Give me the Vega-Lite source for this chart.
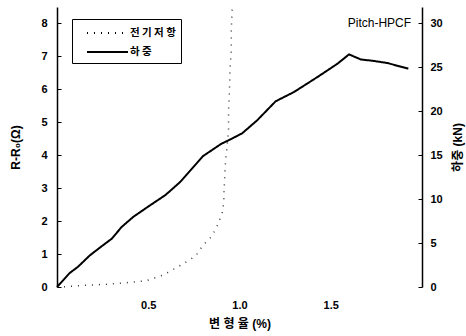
{
  "$schema": "https://vega.github.io/schema/vega-lite/v6.json",
  "width": 365,
  "height": 280,
  "autosize": {"type": "none"},
  "padding": {"left": 57, "top": 7, "right": 44, "bottom": 49},
  "background": "white",
  "config": {
    "view": {"stroke": null},
    "font": "Liberation Sans, Noto Sans CJK KR",
    "axis": {"grid": false, "labelFont": "Liberation Sans, Noto Sans CJK KR", "titleFont": "Liberation Sans, Noto Sans CJK KR", "labelFontWeight": "bold", "titleFontWeight": "bold", "labelFontSize": 11, "titleFontSize": 12, "labelColor": "#000", "titleColor": "#000", "domainColor": "#000", "tickColor": "#000", "labelOverlap": false}
  },
  "datasets": {
    "res": [
      {"strain": 0.0, "value": 0.0, "series": "전기저항"},
      {"strain": 0.05, "value": 0.01, "series": "전기저항"},
      {"strain": 0.18, "value": 0.06, "series": "전기저항"},
      {"strain": 0.27, "value": 0.08, "series": "전기저항"},
      {"strain": 0.38, "value": 0.13, "series": "전기저항"},
      {"strain": 0.49, "value": 0.19, "series": "전기저항"},
      {"strain": 0.58, "value": 0.36, "series": "전기저항"},
      {"strain": 0.66, "value": 0.6, "series": "전기저항"},
      {"strain": 0.76, "value": 0.94, "series": "전기저항"},
      {"strain": 0.8, "value": 1.27, "series": "전기저항"},
      {"strain": 0.85, "value": 1.55, "series": "전기저항"},
      {"strain": 0.877, "value": 1.85, "series": "전기저항"},
      {"strain": 0.905, "value": 2.23, "series": "전기저항"},
      {"strain": 0.914, "value": 2.58, "series": "전기저항"},
      {"strain": 0.915, "value": 2.89, "series": "전기저항"},
      {"strain": 0.918, "value": 3.19, "series": "전기저항"},
      {"strain": 0.92, "value": 3.49, "series": "전기저항"},
      {"strain": 0.924, "value": 3.85, "series": "전기저항"},
      {"strain": 0.93, "value": 4.15, "series": "전기저항"},
      {"strain": 0.94, "value": 4.76, "series": "전기저항"},
      {"strain": 0.94, "value": 5.36, "series": "전기저항"},
      {"strain": 0.945, "value": 5.97, "series": "전기저항"},
      {"strain": 0.948, "value": 6.6, "series": "전기저항"},
      {"strain": 0.955, "value": 7.2, "series": "전기저항"},
      {"strain": 0.955, "value": 7.8, "series": "전기저항"},
      {"strain": 0.96, "value": 8.45, "series": "전기저항"}
    ],
    "load": [
      {"strain": 0.0, "value": 0.0, "series": "하중"},
      {"strain": 0.07, "value": 1.6, "series": "하중"},
      {"strain": 0.115, "value": 2.3, "series": "하중"},
      {"strain": 0.18, "value": 3.6, "series": "하중"},
      {"strain": 0.236, "value": 4.5, "series": "하중"},
      {"strain": 0.3, "value": 5.5, "series": "하중"},
      {"strain": 0.355, "value": 6.85, "series": "하중"},
      {"strain": 0.419, "value": 8.0, "series": "하중"},
      {"strain": 0.51, "value": 9.3, "series": "하중"},
      {"strain": 0.593, "value": 10.45, "series": "하중"},
      {"strain": 0.676, "value": 11.97, "series": "하중"},
      {"strain": 0.758, "value": 13.9, "series": "하중"},
      {"strain": 0.8, "value": 14.9, "series": "하중"},
      {"strain": 0.85, "value": 15.6, "series": "하중"},
      {"strain": 0.9, "value": 16.3, "series": "하중"},
      {"strain": 0.95, "value": 16.8, "series": "하중"},
      {"strain": 1.015, "value": 17.5, "series": "하중"},
      {"strain": 1.097, "value": 18.98, "series": "하중"},
      {"strain": 1.198, "value": 21.14, "series": "하중"},
      {"strain": 1.298, "value": 22.19, "series": "하중"},
      {"strain": 1.427, "value": 23.9, "series": "하중"},
      {"strain": 1.537, "value": 25.42, "series": "하중"},
      {"strain": 1.6, "value": 26.48, "series": "하중"},
      {"strain": 1.665, "value": 25.9, "series": "하중"},
      {"strain": 1.73, "value": 25.75, "series": "하중"},
      {"strain": 1.81, "value": 25.5, "series": "하중"},
      {"strain": 1.925, "value": 24.85, "series": "하중"}
    ],
    "label": [
      {"strain": 1.94, "value": 8.0, "text": "Pitch-HPCF"}
    ]
  },
  "layer": [
    {
      "layer": [
        {
          "data": {"name": "res"},
          "mark": {"type": "line", "strokeWidth": 1.5, "color": "#333"},
          "encoding": {
            "x": {"field": "strain", "type": "quantitative", "scale": {"domain": [0, 2], "nice": false},
                  "axis": {"title": "변 형 율 (%)", "values": [0.5, 1, 1.5], "domain": false, "ticks": false, "labelPadding": 12, "titlePadding": 8, "labelFontSize": 11}},
            "y": {"field": "value", "type": "quantitative", "scale": {"domain": [0, 8.5], "nice": false},
                  "axis": {"title": "R-R₀(Ω)", "values": [0, 1, 2, 3, 4, 5, 6, 7, 8], "tickSize": -4, "labelPadding": 14, "titlePadding": 18, "domainWidth": 1.5}},
            "strokeDash": {"field": "series", "type": "nominal",
                  "scale": {"domain": ["전기저항", "하중"], "range": [[1, 6], [1, 0]]},
                  "legend": {"title": null, "orient": "none", "legendX": 15, "legendY": 12, "symbolType": "M0.125,0H5.25", "symbolSize": 256, "symbolStrokeWidth": 2, "symbolStrokeColor": "#000", "symbolFillColor": "transparent", "labelOffset": 35, "strokeColor": "#000", "padding": 5, "rowPadding": 4, "labelFontSize": 10.5, "labelFontWeight": "bold", "labelFont": "Noto Sans CJK KR", "labelColor": "#000", "fillColor": "white", "labelExpr": "datum.label == '전기저항' ? '전 기 저 항' : '하 중'"}}
          }
        },
        {
          "data": {"name": "label"},
          "mark": {"type": "text", "align": "right", "baseline": "middle", "fontSize": 12, "font": "Liberation Sans", "color": "#000"},
          "encoding": {
            "x": {"field": "strain", "type": "quantitative", "axis": {"title": "변 형 율 (%)", "values": [0.5, 1, 1.5], "domain": false, "ticks": false, "labelPadding": 12, "titlePadding": 8, "labelFontSize": 11}},
            "y": {"field": "value", "type": "quantitative", "axis": {"title": "R-R₀(Ω)", "values": [0, 1, 2, 3, 4, 5, 6, 7, 8], "tickSize": -4, "labelPadding": 14, "titlePadding": 18, "domainWidth": 1.5}},
            "text": {"field": "text"}
          }
        }
      ]
    },
    {
      "data": {"name": "load"},
      "mark": {"type": "line", "strokeWidth": 2, "color": "#000"},
      "encoding": {
        "x": {"field": "strain", "type": "quantitative"},
        "y": {"field": "value", "type": "quantitative", "scale": {"domain": [0, 31.875], "nice": false},
              "axis": {"orient": "right", "title": "하중 (kN)", "titleAngle": 270, "values": [0, 5, 10, 15, 20, 25, 30], "tickSize": -4, "labelPadding": 12, "titlePadding": 22, "domainWidth": 1.5}},
        "strokeDash": {"field": "series", "type": "nominal"}
      }
    }
  ],
  "resolve": {"scale": {"y": "independent"}}
}
